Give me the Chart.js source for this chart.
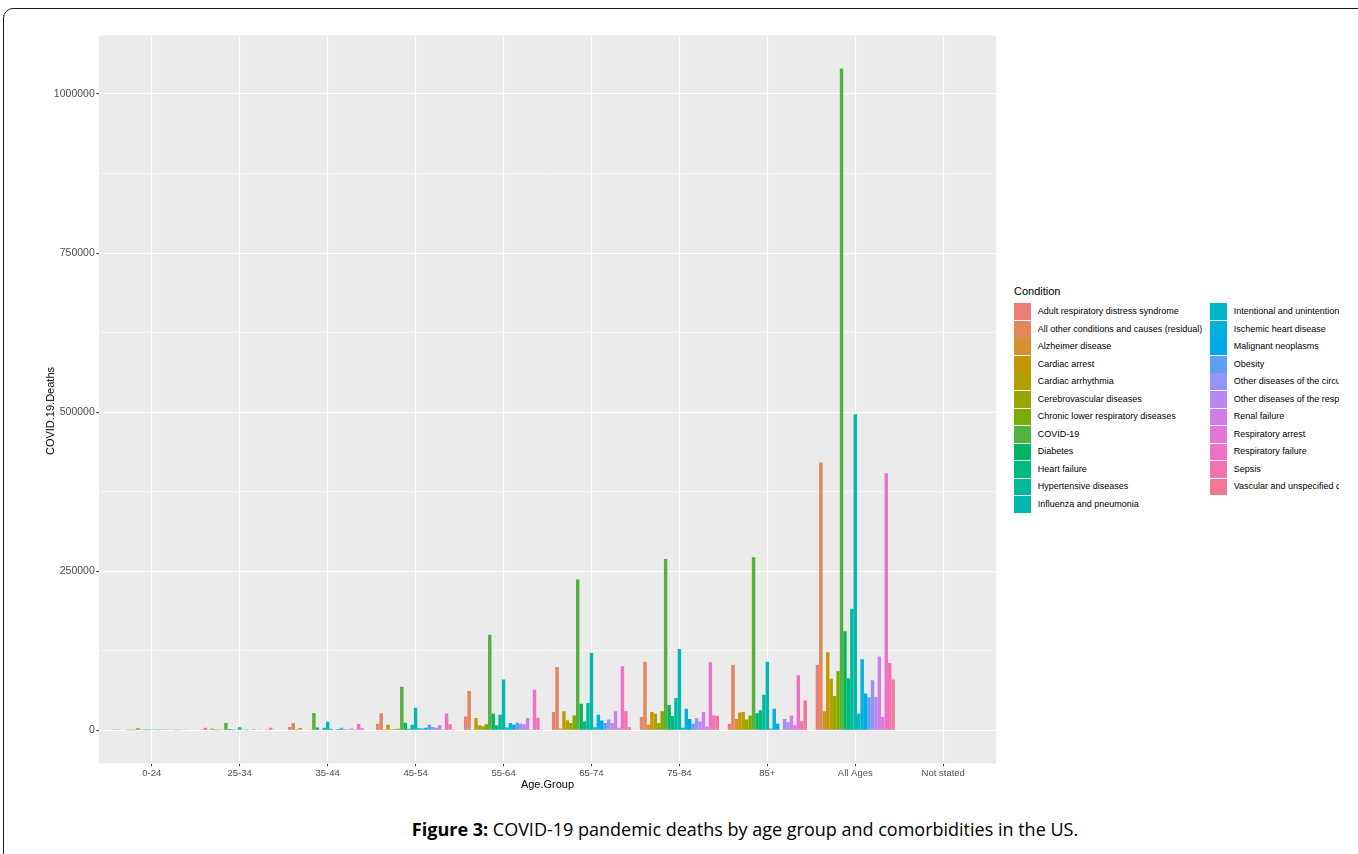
<!DOCTYPE html>
<html>
<head>
<meta charset="utf-8">
<title>COVID-19 deaths by age group and condition</title>
<script src="https://cdn.jsdelivr.net/npm/chart.js@4.4.1/dist/chart.umd.min.js"></script>
<style>
    html, body { margin: 0; padding: 0; background: #fff; overflow: hidden; }
    body { width: 1358px; height: 854px; position: relative; font-family: "Liberation Sans", Arial, sans-serif; }
    .frame { position: absolute; left: 3px; top: 8px; width: 1482px; height: 900px; border: 1px solid #1a1a1a; border-radius: 10px; }
    .caption { position: absolute; left: 0; top: 808px; width: 1482px; text-align: center; font-family: "Open Sans", sans-serif; font-size: 18px; color: #000; }
    .plot { position: absolute; left: 0; top: 0; width: 1000px; height: 800px; }
    .y-title { position: absolute; left: -50px; top: 404px; width: 200px; text-align: center; font-size: 11px; line-height: 14px; color: #000; transform: rotate(-90deg); }
    .legend-box { position: absolute; left: 1000px; top: 270px; width: 339px; height: 260px; overflow: hidden; }
    .legend-title { position: absolute; left: 14px; top: 15px; font-size: 11px; color: #000; }
    .legend-item { position: absolute; height: 17.5px; white-space: nowrap; font-size: 9px; color: #000; line-height: 17.5px; }
    .legend-item .key { position: absolute; left: 0; top: 0.4px; width: 16.7px; height: 16.7px; }
    .legend-item .lbl { position: absolute; left: 23.7px; top: 0; }
</style>
</head>
<body>
<div class="frame">
    <div class="caption"><b>Figure 3:</b> COVID-19 pandemic deaths by age group and comorbidities in the US.</div>
</div>
<div class="plot"><canvas id="deathsChart"></canvas></div>
<div class="y-title">COVID.19.Deaths</div>
<div class="legend-box">
    <div class="legend-title">Condition</div>
    <div id="legend"></div>
</div>

<script>
// ---- data ----
const ageGroups = ['0-24', '25-34', '35-44', '45-54', '55-64', '65-74', '75-84', '85+', 'All Ages', 'Not stated'];

const conditions = [
    'Adult respiratory distress syndrome',
    'All other conditions and causes (residual)',
    'Alzheimer disease',
    'Cardiac arrest',
    'Cardiac arrhythmia',
    'Cerebrovascular diseases',
    'Chronic lower respiratory diseases',
    'COVID-19',
    'Diabetes',
    'Heart failure',
    'Hypertensive diseases',
    'Influenza and pneumonia',
    'Intentional and unintentional injury, poisoning, and other adverse events',
    'Ischemic heart disease',
    'Malignant neoplasms',
    'Obesity',
    'Other diseases of the circulatory system',
    'Other diseases of the respiratory system',
    'Renal failure',
    'Respiratory arrest',
    'Respiratory failure',
    'Sepsis',
    'Vascular and unspecified dementia'
];

// one array per age group, values in the order of `conditions`
const deaths0to24    = [800, 1800, 0, 900, 200, 200, 300, 3200, 600, 200, 300, 1300, 700, 100, 500, 600, 500, 600, 400, 200, 1500, 800, 0];
const deaths25to34   = [1500, 4000, 0, 2500, 400, 400, 500, 11500, 2200, 400, 1300, 5000, 1500, 300, 900, 2000, 900, 700, 1000, 200, 4000, 1500, 0];
const deaths35to44   = [5200, 11500, 100, 3700, 900, 1200, 1300, 27500, 4500, 1100, 4000, 13500, 2500, 1200, 2200, 4200, 2100, 1700, 2900, 400, 10500, 3700, 0];
const deaths45to54   = [10500, 27000, 200, 9000, 1800, 2200, 2600, 68500, 12000, 2700, 9000, 35600, 3500, 2900, 4300, 9000, 5200, 4300, 8000, 800, 26500, 9500, 100];
const deaths55to64   = [22000, 62000, 500, 19500, 8000, 6400, 9500, 150500, 26000, 8000, 24500, 80000, 4500, 11500, 9000, 12000, 10500, 9500, 19500, 1500, 64000, 20000, 400];
const deaths65to74   = [29000, 99500, 3000, 30000, 16000, 11500, 23500, 237000, 42000, 14000, 43000, 121500, 5000, 24500, 15700, 11500, 17300, 11500, 30000, 4000, 101000, 30000, 5000];
const deaths75to84   = [21000, 108000, 9000, 29000, 26000, 11500, 30000, 269500, 40000, 22500, 51000, 128000, 4000, 34000, 18000, 10500, 19000, 14000, 29000, 6000, 107000, 23500, 23000];
const deaths85plus   = [10500, 103000, 18000, 28000, 29000, 17000, 23500, 272000, 27000, 31500, 56000, 108000, 3000, 34000, 10500, 1000, 18000, 13000, 23500, 8000, 86500, 14500, 47000];
const deathsAllAges  = [103000, 421000, 30000, 123000, 81000, 54000, 93000, 1040000, 156000, 82000, 191000, 497000, 26000, 112000, 58000, 52000, 79000, 53000, 116000, 21000, 404000, 106000, 80000];
const deathsNotStated = [0, 0, 0, 0, 0, 0, 0, 0, 0, 0, 0, 0, 0, 0, 0, 0, 0, 0, 0, 0, 0, 0, 0];

const byAgeGroup = [deaths0to24, deaths25to34, deaths35to44, deaths45to54, deaths55to64,
    deaths65to74, deaths75to84, deaths85plus, deathsAllAges, deathsNotStated];

const yMajorTicks = [0, 250000, 500000, 750000, 1000000];
const yMinorTicks = [125000, 375000, 625000, 875000];

// ggplot-like hue palette (hcl); chroma lowered a little to match the faded print
function hcl(h, c, l) {
    const hr = h * Math.PI / 180;
    const U = c * Math.cos(hr), V = c * Math.sin(hr);
    const Xn = 95.047, Yn = 100, Zn = 108.883;
    const Y = l > 8 ? Yn * Math.pow((l + 16) / 116, 3) : Yn * l / 903.3;
    const t = Xn + 15 * Yn + 3 * Zn;
    const u = U / (13 * l) + 4 * Xn / t;
    const v = V / (13 * l) + 9 * Yn / t;
    const X = Y * 9 * u / (4 * v);
    const Z = Y * (12 - 3 * u - 20 * v) / (4 * v);
    const x = X / 100, y = Y / 100, z = Z / 100;
    const lin = [
        3.240479 * x - 1.537150 * y - 0.498535 * z,
        -0.969256 * x + 1.875992 * y + 0.041556 * z,
        0.055648 * x - 0.204043 * y + 1.057311 * z
    ];
    const hex = lin.map(ch => {
        let s = ch <= 0.0031308 ? 12.92 * ch : 1.055 * Math.pow(ch, 1 / 2.4) - 0.055;
        s = Math.round(Math.min(1, Math.max(0, s)) * 255);
        return s.toString(16).padStart(2, '0');
    });
    return '#' + hex.join('');
}
const colors = conditions.map((_, i) => hcl(15 + i * 360 / conditions.length, 80, 65));

// grey panel behind the plot, like ggplot's theme_grey
const panelBg = {
    id: 'panelBg',
    beforeDraw(chart) {
        const { ctx, chartArea: a } = chart;
        ctx.save();
        ctx.fillStyle = '#EBEBEB';
        ctx.fillRect(a.left, a.top, a.right - a.left, a.bottom - a.top);
        ctx.restore();
    }
};

const yTop = Math.max(...deathsAllAges);
const yPad = yTop * 0.05;
const isMajor = v => yMajorTicks.includes(v);

new Chart(document.getElementById('deathsChart'), {
    type: 'bar',
    data: {
        datasets: conditions.map((name, c) => ({
            label: name,
            data: byAgeGroup.map((vals, g) => ({ x: g + 1, y: vals[c] })),
            backgroundColor: colors[c],
            borderWidth: 0
        }))
    },
    options: {
        responsive: true,
        maintainAspectRatio: false,
        animation: false,
        devicePixelRatio: 1,
        categoryPercentage: 0.9,
        barPercentage: 1,
        layout: { padding: { left: 40, top: 35.5, right: 4, bottom: 0 } },
        plugins: { legend: { display: false }, tooltip: { enabled: false } },
        scales: {
            x: {
                type: 'linear',
                min: 0.4,
                max: ageGroups.length + 0.6,
                offset: false,
                afterBuildTicks: s => { s.ticks = ageGroups.map((_, i) => ({ value: i + 1 })); },
                afterFit: s => { s.height = 36.5; },
                border: { display: false },
                grid: { color: '#FFFFFF', lineWidth: 1.1, offset: false, tickLength: 2.75, tickColor: '#333333', tickWidth: 1 },
                ticks: {
                    autoSkip: false, maxRotation: 0, padding: 1.5, color: '#4D4D4D',
                    font: { family: 'Liberation Sans, Arial', size: 9.5 },
                    callback: v => ageGroups[v - 1]
                },
                title: {
                    display: true, text: 'Age.Group', color: '#000',
                    font: { family: 'Liberation Sans, Arial', size: 11 },
                    padding: { top: 0, bottom: 8.4 }
                }
            },
            y: {
                min: -yPad,
                max: yTop + yPad,
                afterBuildTicks: s => {
                    s.ticks = yMajorTicks.concat(yMinorTicks).sort((a, b) => a - b).map(v => ({ value: v }));
                },
                afterFit: s => { s.width = 59; },
                border: { display: false },
                grid: {
                    color: '#FFFFFF',
                    lineWidth: ctx => isMajor(ctx.tick.value) ? 1.1 : 0.55,
                    tickLength: 2.75,
                    tickColor: ctx => isMajor(ctx.tick.value) ? '#333333' : 'rgba(0,0,0,0)',
                    tickWidth: 1
                },
                ticks: {
                    autoSkip: false, padding: 1.5, color: '#4D4D4D',
                    font: { family: 'Liberation Sans, Arial', size: 10.5 },
                    callback: v => isMajor(v) ? String(v) : ''
                }
            }
        }
    },
    plugins: [panelBg]
});

// two-column legend, clipped at the right edge like the original
const legend = document.getElementById('legend');
const perCol = 12;
conditions.forEach((name, i) => {
    const col = Math.floor(i / perCol), row = i % perCol;
    const item = document.createElement('div');
    item.className = 'legend-item';
    item.style.left = (col === 0 ? 14 : 210) + 'px';
    item.style.top = (33 + row * 17.52) + 'px';
    item.innerHTML = `<span class="key" style="background:${colors[i]}"></span><span class="lbl">${name}</span>`;
    legend.appendChild(item);
});
</script>
</body>
</html>
